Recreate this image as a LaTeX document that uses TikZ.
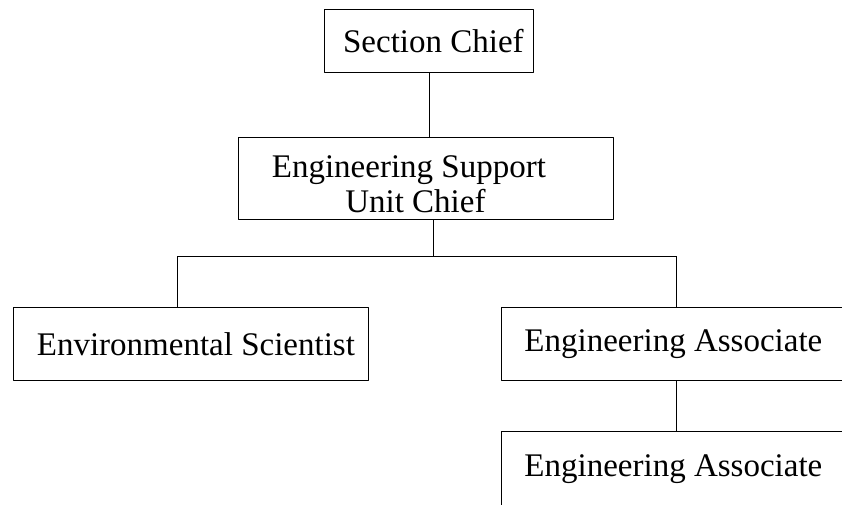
\documentclass[tikz,border=0pt]{standalone}
\usepackage{fontspec}
\setmainfont{Liberation Serif}
\begin{document}
\begin{tikzpicture}[x=1pt, y=-1pt, line join=round,
		font=\fontsize{33}{35}\selectfont,
		box/.style={draw, rectangle, anchor=north west, inner sep=0pt, line width=0.8pt, align=center},
		link/.style={line width=0.8pt}]
	\def\W{842} \def\H{504} % page
	\useasboundingbox (0,0) rectangle (\W,\H);
	\clip (0,0) rectangle (\W,\H);
	% boxes
	\node[box, minimum width=209, minimum height=63] (chief) at (324,9) {\hspace*{9pt}Section Chief};
	\node[box, minimum width=375, minimum height=82] (esu) at (238,137)
		{\rule{0pt}{33pt}Engineering Support\hspace*{34pt}\\Unit Chief\hspace*{21pt}};
	\node[box, minimum width=355, minimum height=73] (env) at (13,307) {\hspace*{10pt}Environmental Scientist};
	\node[box, minimum width=344, minimum height=73] (assoc) at (501,307) {Engineering Associate};
	\node[box, minimum width=344, minimum height=75] (assocb) at (501,431) {Engineering Associate};
	% connectors
	\coordinate (busL) at (177,256);
	\coordinate (busR) at (676,256);
	\draw[link] (chief.south) -- (chief.south |- esu.north);
	\draw[link] ([xshift=7pt]esu.south) -- ([xshift=7pt]esu.south |- busL);
	\draw[link] (busL) -- (busR);
	\draw[link] (busL) -- (busL |- env.north);
	\draw[link] (busR) -- (busR |- assoc.north);
	\draw[link] (busR |- assoc.south) -- (busR |- assocb.north);
\end{tikzpicture}
\end{document}
